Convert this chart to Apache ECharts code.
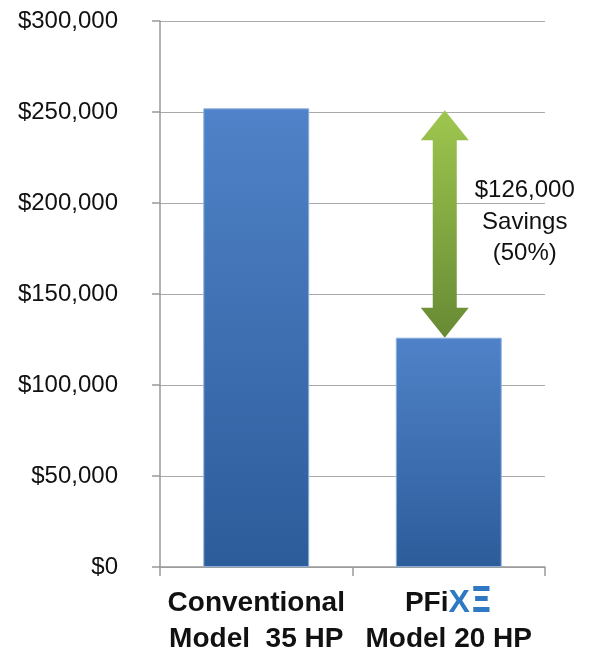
<!DOCTYPE html>
<html>
<head>
<meta charset="utf-8">
<script src="https://cdn.jsdelivr.net/npm/echarts@6/dist/echarts.min.js"></script>
<style>
  html, body { margin: 0; padding: 0; background: #fff; }
  #chart { width: 597px; height: 653px; }
</style>
</head>
<body>
<div id="chart"></div>
<script>
// data
var categories = ['conv', 'pfixe'];
var costs = [252000, 126000];
var savingsRange = [126000, 252000]; // arrow from low bar top to high bar top
var savingsLabel = ['$126,000', 'Savings', '(50%)'];

var chart = echarts.init(document.getElementById('chart'));

var barColor = new echarts.graphic.LinearGradient(0, 0, 0, 1, [
  { offset: 0, color: '#4f82c8' },
  { offset: 1, color: '#2d5c9a' }
]);
var arrowColor = new echarts.graphic.LinearGradient(0, 0, 0, 1, [
  { offset: 0, color: '#9ec64e' },
  { offset: 1, color: '#678a34' }
]);

function renderArrow(params, api) {
  var top = api.coord([api.value(0), api.value(2)]);
  var bottom = api.coord([api.value(0), api.value(1)]);
  var cx = top[0] - 4;
  var head = 30, hw = 24, sw = 12;
  var y0 = top[1] + 2, y1 = bottom[1];
  var pts = [
    [cx, y0], [cx + hw, y0 + head], [cx + sw, y0 + head],
    [cx + sw, y1 - head], [cx + hw, y1 - head], [cx, y1],
    [cx - hw, y1 - head], [cx - sw, y1 - head], [cx - sw, y0 + head],
    [cx - hw, y0 + head]
  ];
  return {
    type: 'group',
    children: [
      { type: 'polygon', shape: { points: pts }, style: { fill: arrowColor } },
      {
        type: 'text',
        x: cx + 80, y: (y0 + y1) / 2 - 2,
        style: {
          text: savingsLabel.join('\n'),
          fontFamily: 'Liberation Sans, Arial, sans-serif',
          fontSize: 24, lineHeight: 31.5,
          fill: '#111', align: 'center', verticalAlign: 'middle'
        }
      }
    ]
  };
}

var option = {
  animation: false,
  grid: { left: 160, right: 52, top: 21, bottom: 86 },
  xAxis: {
    type: 'category',
    data: categories,
    axisLine: { lineStyle: { color: '#999', width: 1.5 } },
    axisTick: { show: true, length: 9, lineStyle: { color: '#999', width: 1.5 } },
    axisLabel: {
      margin: 18,
      interval: 0,
      formatter: function (v) {
        if (v === 'conv') return '{b|Conventional}\n{b|Model  35 HP}';
        return '{b|PFi}{x|X}{e|Ξ}\n{b|Model 20 HP}';
      },
      rich: {
        b: { fontFamily: 'Liberation Sans, Arial, sans-serif', fontSize: 28, fontWeight: 'bold', color: '#111', lineHeight: 36 },
        x: { fontFamily: 'Liberation Sans, Arial, sans-serif', fontSize: 32, fontWeight: 'bold', color: '#2f78c4', lineHeight: 36 },
        e: { fontFamily: 'DejaVu Sans, sans-serif', fontSize: 36, fontWeight: 'bold', color: '#2f78c4', lineHeight: 36 }
      }
    }
  },
  yAxis: {
    type: 'value',
    min: 0, max: 300000, interval: 50000,
    axisLine: { show: true, lineStyle: { color: '#999', width: 1.5 } },
    axisTick: { show: true, length: 8, lineStyle: { color: '#999', width: 1.5 } },
    splitLine: { lineStyle: { color: '#aaa', width: 1 } },
    axisLabel: {
      margin: 42,
      fontFamily: 'Liberation Sans, Arial, sans-serif',
      fontSize: 24,
      color: '#111',
      formatter: function (v) { return '$' + v.toLocaleString('en-US'); }
    }
  },
  series: [
    {
      type: 'bar',
      data: costs,
      barWidth: '55%',
      itemStyle: { color: barColor, borderColor: '#8aaedc', borderWidth: 1 }
    },
    {
      type: 'custom',
      renderItem: renderArrow,
      data: [[1, savingsRange[0], savingsRange[1]]],
      z: 5
    }
  ]
};

chart.setOption(option);
</script>
</body>
</html>
